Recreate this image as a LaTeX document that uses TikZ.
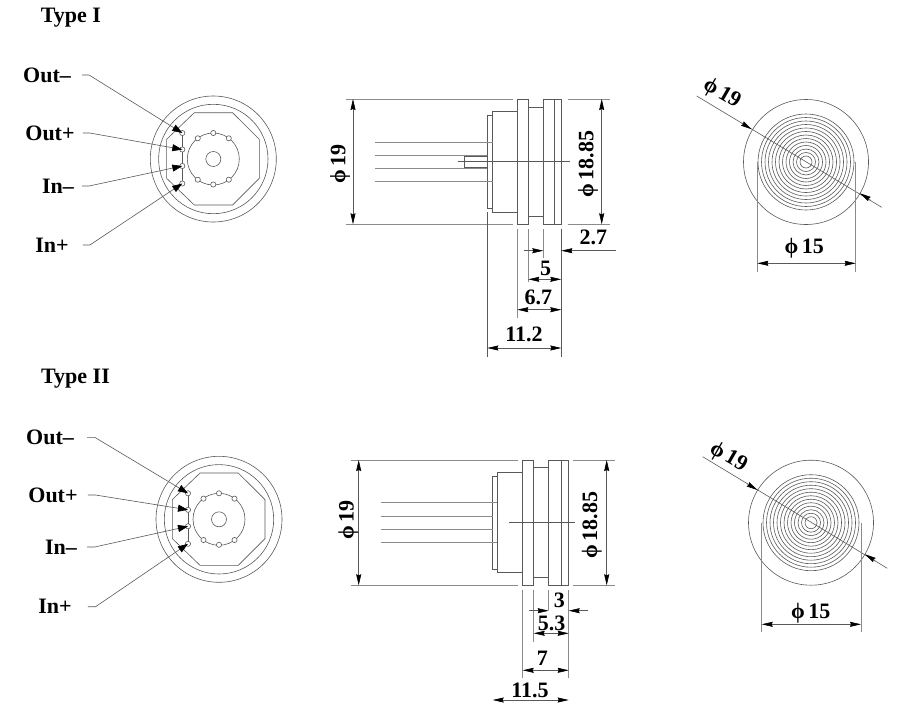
\documentclass[tikz,border=0pt]{standalone}
\usepackage{fontspec}
\setmainfont{Liberation Serif}
\usetikzlibrary{arrows.meta}
\definecolor{linegray}{gray}{0.35}
\tikzset{
  part/.style={draw=linegray, line width=0.6pt},
  extline/.style={draw=linegray!70, line width=0.6pt},
  dimline/.style={draw=linegray, line width=0.6pt, {Stealth[length=11pt,width=5pt,inset=1pt,black]}-{Stealth[length=11pt,width=5pt,inset=1pt,black]}},
  oneway/.style={draw=linegray, line width=0.6pt, -{Stealth[length=11pt,width=5pt,inset=1pt,black]}},
  leader/.style={draw=linegray, line width=0.6pt, -{Stealth[length=10pt,width=7pt,inset=0pt,black]}},
  txt/.style={font=\fontsize{22}{22}\selectfont\bfseries, inner sep=0pt},
  frontview/.pic={
    \draw[part] (0,0) circle (63);
    \draw[part] (0,0) circle (54.7);
    \draw[part] (-19,-46.3) -- (19.3,-46.3) -- (46,-19.7) -- (46,19.3) -- (19.3,46) -- (-19,46) -- (-46.7,19.3) -- (-46.7,-19.7) -- cycle;
    \draw[part] (-31,-27) -- (-31,26);
    \draw[part] (0,0) circle (26);
    \draw[part] (0,0) circle (7.5);
    % Pins
    \foreach \px/\py in {0/-26, -15.5/-20.7, 15.5/-20.7, -15.5/20.7, 15.5/20.7, 0/25.5}
      \draw[part, fill=white] (\px,\py) circle (2.6);
    % Pads
    \foreach \pn/\py in {a/-26, b/-9.5, c/7, d/24.5} {
      \draw[part, fill=white] (-31,\py) circle (2.6);
      \coordinate (-\pn) at (-31,\py);
    }
  },
  backview/.pic={
    \draw[part] (0,0) circle (62.5);
    \foreach \pr in {6,9.5,...,49.5}
      \draw[part] (0,0) circle (\pr);
  }
}
\begin{document}
\begin{tikzpicture}[x=1pt,y=-1pt]
\useasboundingbox (0,0) rectangle (917,712);

%%% Type I
\node[txt] (typeone) at (71,18) {Type I};

% Front view with the four leaders
\pic (fa) at (213.3,159) {frontview};
\node[txt] (aoutm) at (47,75) {Out--};
\node[txt] (aoutp) at (50,133) {Out+};
\node[txt] (ainm) at (58,186) {In--};
\node[txt] (ainp) at (52,245) {In+};
\draw[leader] ([xshift=11pt]aoutm.east) -- ++(7,0) -- (fa-a);
\draw[leader] ([xshift=8pt]aoutp.east) -- ++(7,0) -- (fa-b);
\draw[leader] ([xshift=8pt]ainm.east) -- ++(7,0) -- (fa-c);
\draw[leader] ([xshift=14pt]ainp.east) -- ++(7,0) -- (fa-d);

% Side view
\draw[part] (517.3,99) rectangle (528.3,224.3);
\draw[part] (528.3,107.3) rectangle (543.3,216);
\draw[part] (543.3,99) rectangle (561.3,224.3);
\draw[part] (554.3,99) -- (554.3,224.3);
\draw[part] (492.7,111.7) rectangle (517.3,212.3);
\draw[part] (487.3,115.7) rectangle (492.7,208.3);
\draw[part] (464.3,156.7) rectangle (487.3,167.7);
\draw[extline] (375,142.3) -- (492.7,142.3);
\draw[extline] (375,155) -- (487.3,155);
\draw[extline] (375,168.3) -- (487.3,168.3);
\draw[extline] (375,181.3) -- (492.7,181.3);
\draw[part] (458.3,161.7) -- (570,161.7);

% Dimensions of the side view
\draw[extline] (345.7,99) -- (513,99);
\draw[extline] (345.7,224.3) -- (513,224.3);
\draw[extline] (567.7,99) -- (610,99);
\draw[extline] (567.7,224.3) -- (610,224.3);
\draw[dimline] (353,99) -- (353,224.3);
\draw[dimline] (601.7,99) -- (601.7,224.3);
\node[txt, rotate=90] (asideb) at (340,164) {ϕ\,19};
\node[txt, rotate=90] (asides) at (588,164) {ϕ\,18.85};
\draw[extline] (517.3,229) -- (517.3,318);
\draw[extline] (528.3,229) -- (528.3,281.7);
\draw[extline] (543.3,229) -- (543.3,258);
\draw[part] (561.3,229) -- (561.3,356.7);
\draw[part] (487.3,212) -- (487.3,356.7);
\draw[oneway] (524,250.7) -- (543.3,250.7);
\draw[oneway] (615.7,250.7) -- (561.3,250.7);
\draw[dimline] (528.3,279.3) -- (561.3,279.3);
\draw[dimline] (517.3,309.7) -- (561.3,309.7);
\draw[dimline] (487.3,348) -- (561.3,348);
\node[txt] (adimc) at (593.3,237.5) {2.7};
\node[txt] (adimd) at (545.7,268.5) {5};
\node[txt] (adime) at (538.3,297.5) {6.7};
\node[txt] (adimf) at (524,334.5) {11.2};

% Back view
\pic at (806,162) {backview};
\draw[part] (696.7,96) -- (881.7,207.3);
\draw[oneway] (741.5,123) -- (751.7,129.3);
\draw[oneway] (870.2,199.6) -- (860,193.3);
\draw[extline] (757.3,162) -- (757.3,271.7);
\draw[extline] (855.7,162) -- (855.7,271.7);
\draw[dimline] (757.3,263.3) -- (855.7,263.3);
\node[txt, rotate=-30] (abackb) at (721.7,94) {ϕ\,19};
\node[txt] (abacka) at (804.3,248.3) {ϕ\,15};

%%% Type II
\node[txt] (typetwo) at (75.5,379) {Type II};

% Front view with the four leaders
\pic (fb) at (219,519.3) {frontview};
\node[txt] (boutm) at (50,437.3) {Out--};
\node[txt] (boutp) at (53,495) {Out+};
\node[txt] (binm) at (61,547) {In--};
\node[txt] (binp) at (55,606.7) {In+};
\draw[leader] ([xshift=13pt]boutm.east) -- ++(7.7,0) -- (fb-a);
\draw[leader] ([xshift=10pt]boutp.east) -- ++(7.7,0) -- (fb-b);
\draw[leader] ([xshift=10pt]binm.east) -- ++(7.7,0) -- (fb-c);
\draw[leader] ([xshift=16pt]binp.east) -- ++(7.7,0) -- (fb-d);

% Side view
\draw[part] (522.7,460) rectangle (533.7,585.3);
\draw[part] (533.7,467.7) rectangle (548.7,577.3);
\draw[part] (548.7,460) rectangle (568.7,585.3);
\draw[part] (561.3,460) -- (561.3,585.3);
\draw[part] (497.3,472.3) rectangle (522.7,572.3);
\draw[part] (492.7,476.7) rectangle (497.3,569);
\draw[extline] (380.7,502.7) -- (497.3,502.7);
\draw[extline] (380.7,516) -- (492.7,516);
\draw[extline] (380.7,529) -- (492.7,529);
\draw[extline] (380.7,542.3) -- (497.3,542.3);
\draw[part] (509.3,522.3) -- (575,522.3);

% Dimensions of the side view
\draw[extline] (350.7,460) -- (518.3,460);
\draw[extline] (350.7,585.3) -- (518.3,585.3);
\draw[extline] (573.3,460) -- (615,460);
\draw[extline] (573.3,585.3) -- (615,585.3);
\draw[dimline] (358.7,460) -- (358.7,585.3);
\draw[dimline] (606.7,460) -- (606.7,585.3);
\node[txt, rotate=90] (bsideb) at (348.3,520) {ϕ\,19};
\node[txt, rotate=90] (bsides) at (591.7,525) {ϕ\,18.85};
\draw[extline] (522.7,590) -- (522.7,678.3);
\draw[extline] (533.7,590) -- (533.7,641.7);
\draw[extline] (548.7,590) -- (548.7,610);
\draw[extline] (568.7,590) -- (568.7,678.3);
\draw[oneway] (529.3,610.7) -- (548.7,610.7);
\draw[oneway] (588.3,610.7) -- (568.7,610.7);
\draw[dimline] (533.7,633.3) -- (568.7,633.3);
\draw[dimline] (522.7,670.3) -- (568.7,670.3);
\draw[dimline] (492.7,700) -- (568.7,700);
\node[txt] (bdimc) at (559.3,600) {3};
\node[txt] (bdimd) at (551.7,623) {5.3};
\node[txt] (bdime) at (542.3,658) {7};
\node[txt] (bdimf) at (530,690) {11.5};

% Back view
\pic at (811,522.7) {backview};
\draw[part] (702.7,456.7) -- (887.3,568.3);
\draw[oneway] (747.1,483.7) -- (757.3,490);
\draw[oneway] (875.2,560.6) -- (865,554.3);
\draw[extline] (761.7,522.7) -- (761.7,631.7);
\draw[extline] (861,522.7) -- (861,631.7);
\draw[dimline] (761.7,624.3) -- (861,624.3);
\node[txt, rotate=-30] (bbackb) at (728.3,457.3) {ϕ\,19};
\node[txt] (bbacka) at (810.7,612.7) {ϕ\,15};
\end{tikzpicture}
\end{document}
